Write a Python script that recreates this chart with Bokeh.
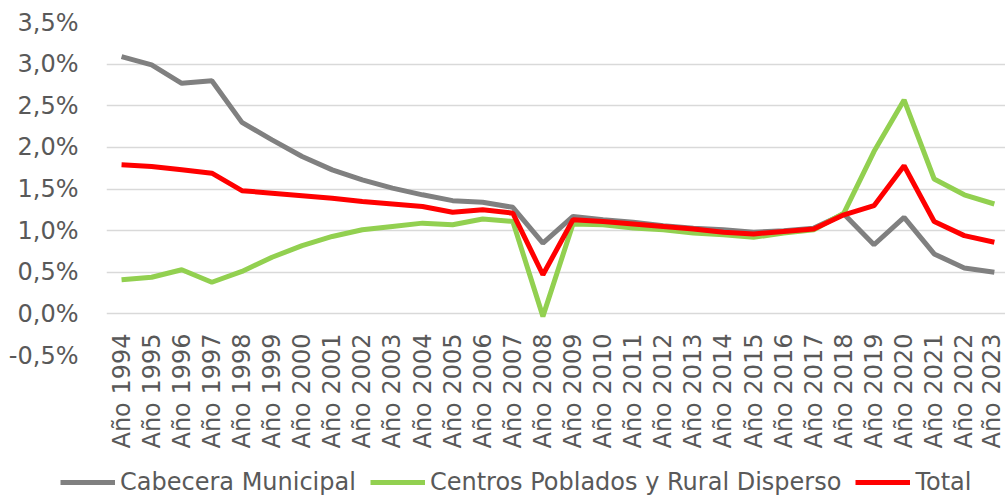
from bokeh.plotting import figure
from bokeh.models import Range1d, FixedTicker, Legend, LegendItem
from bokeh.layouts import column
from bokeh.embed import file_html
from bokeh.resources import INLINE

years = ["Año %d" % y for y in range(1994, 2024)]
cabecera = [3.09, 2.99, 2.77, 2.80, 2.30, 2.09, 1.89, 1.73, 1.61, 1.51, 1.43, 1.36, 1.34, 1.28, 0.85,
            1.17, 1.13, 1.10, 1.06, 1.03, 1.01, 0.98, 1.00, 1.03, 1.20, 0.83, 1.16, 0.72, 0.55, 0.50]
centros = [0.41, 0.44, 0.53, 0.38, 0.51, 0.68, 0.82, 0.93, 1.01, 1.05, 1.09, 1.07, 1.14, 1.11, -0.03,
           1.08, 1.07, 1.03, 1.01, 0.97, 0.95, 0.92, 0.97, 1.01, 1.21, 1.95, 2.57, 1.62, 1.43, 1.32]
total = [1.79, 1.77, 1.73, 1.69, 1.48, 1.45, 1.42, 1.39, 1.35, 1.32, 1.29, 1.22, 1.25, 1.21, 0.47,
         1.13, 1.11, 1.08, 1.05, 1.02, 0.98, 0.96, 0.99, 1.02, 1.19, 1.30, 1.78, 1.11, 0.94, 0.86]
series_names = ["Cabecera Municipal", "Centros Poblados y Rural Disperso", "Total"]
y_ticks = [-0.5, 0.0, 0.5, 1.0, 1.5, 2.0, 2.5, 3.0, 3.5]
y_labels = ["-0,5%", "0,0%", "0,5%", "1,0%", "1,5%", "2,0%", "2,5%", "3,0%", "3,5%"]

xs = list(range(len(years)))
FONT = "DejaVu Sans"
TXT = "#595959"
COLORS = ["#808080", "#92D050", "#FF0000"]

p = figure(width=1005, height=455, output_backend="svg", toolbar_location=None,
           x_range=Range1d(-0.5, 29.37), y_range=Range1d(-0.5, 3.5))
p.frame_align = False
p.min_border_top = 22
p.min_border_left = 106
p.min_border_right = 0
p.min_border_bottom = 100
p.outline_line_color = None
p.background_fill_color = "white"

p.xgrid.grid_line_color = None
p.ygrid.grid_line_color = "#d9d9d9"
p.ygrid.grid_line_width = 1.5
p.ygrid.ticker = FixedTicker(ticks=y_ticks)

p.yaxis.ticker = FixedTicker(ticks=y_ticks)
p.yaxis.major_label_overrides = {t: l for t, l in zip(y_ticks, y_labels)}
p.yaxis.axis_line_color = None
p.yaxis.major_tick_line_color = None
p.yaxis.minor_tick_line_color = None
p.yaxis.major_label_text_font = FONT
p.yaxis.major_label_text_font_size = "24px"
p.yaxis.major_label_text_color = TXT
p.yaxis.major_label_standoff = 22

p.xaxis.ticker = FixedTicker(ticks=xs)
p.xaxis.major_label_overrides = {i: y for i, y in enumerate(years)}
p.xaxis.major_label_orientation = 1.5707963
p.xaxis.axis_line_color = None
p.xaxis.major_tick_line_color = None
p.xaxis.minor_tick_line_color = None
p.xaxis.major_label_text_font = FONT
p.xaxis.major_label_text_font_size = "24px"
p.xaxis.major_label_text_color = TXT
p.xaxis.major_label_standoff = -28

all_series = [cabecera, centros, total]
for vals, col in zip(all_series, COLORS):
    p.line(xs, vals, line_color=col, line_width=5)

# legend strip below the chart (its own y range keeps the copies out of view)
lf = figure(width=1005, height=42, output_backend="svg", toolbar_location=None,
            x_range=Range1d(-0.5, 29.37), y_range=Range1d(10, 11),
            x_axis_location=None, y_axis_location=None)
lf.frame_align = False
lf.min_border = 0
lf.min_border_left = 0
lf.min_border_right = 0
lf.min_border_top = 0
lf.min_border_bottom = 0
lf.outline_line_color = None
lf.xgrid.grid_line_color = None
lf.ygrid.grid_line_color = None
items = []
for name, vals, col in zip(series_names, all_series, COLORS):
    r = lf.line(xs, vals, line_color=col, line_width=5)
    items.append(LegendItem(label=name, renderers=[r]))
legend = Legend(items=items, orientation="horizontal", location=(60, 1),
                label_text_font=FONT, label_text_font_size="24px", label_text_color=TXT,
                glyph_width=55, label_standoff=5, spacing=14, padding=0, margin=0,
                border_line_color=None, background_fill_alpha=0)
lf.add_layout(legend, "center")

layout = column(p, lf, spacing=0)
open("out.html", "w").write(file_html(layout, INLINE))
